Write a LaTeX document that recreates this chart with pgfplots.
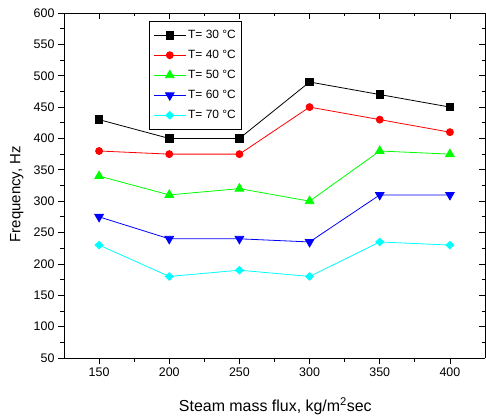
\documentclass[border=0pt]{standalone}
\usepackage{fontspec}
\setmainfont{Liberation Sans}
\usepackage{pgfplots}
\pgfplotsset{compat=1.18}
\definecolor{oGreen}{RGB}{0,255,0}
\definecolor{oCyan}{RGB}{0,255,255}
\definecolor{oBlue}{RGB}{0,0,255}
\definecolor{oRed}{RGB}{255,0,0}
\begin{document}
\begin{tikzpicture}
\useasboundingbox (-64bp,-61bp) rectangle (422bp,358bp);
\pgfplotsset{common/.style={scale only axis, width=421bp, height=345bp,
  xmin=125, xmax=425, ymin=50, ymax=600,
  xtick={150,200,...,400}, ytick={50,100,...,600},
  minor x tick num=1, minor y tick num=1,
  major tick length=6bp, minor tick length=3.5bp,
  tick style={black, line width=0.8bp},
  axis line style={line width=0.9bp},
  /pgf/number format/assume math mode=true,
  tick label style={font=\fontsize{12.5}{14}\selectfont}}}
\begin{axis}[common, axis x line*=top, axis y line*=right, tick align=inside,
  xticklabels={}, yticklabels={}]
\end{axis}
\begin{axis}[common, axis x line*=bottom, axis y line*=left, tick align=outside,
  xlabel={Steam mass flux, kg/m\textsuperscript{2}sec},
  ylabel={Frequency, Hz},
  every axis x label/.style={at={(axis description cs:0.502,-0.156)}, anchor=base, font=\fontsize{16}{18}\selectfont},
  every axis y label/.style={at={(axis description cs:-0.112,0.475)}, rotate=90, anchor=center, font=\fontsize{15}{18}\selectfont},
  legend image code/.code={\draw[mark repeat=2,mark phase=2] plot coordinates {(0bp,0bp)(16bp,0bp)(32bp,0bp)};},
  legend style={at={(axis description cs:0.202,0.977)}, anchor=north west,
    draw=black, line width=0.7bp, font=\fontsize{12}{14}\selectfont,
    inner xsep=4bp, inner ysep=7bp, row sep=6.2bp, cells={anchor=west}},
  every axis plot/.append style={line width=0.8bp},
]
\addplot[black, mark=square*, mark size=3.8bp] coordinates {(150,430) (200,400) (250,400) (300,490) (350,470) (400,450)};
\addlegendentry{T= 30 °C}
\addplot[oRed, mark=*, mark size=3.5bp] coordinates {(150,380) (200,375) (250,375) (300,450) (350,430) (400,410)};
\addlegendentry{T= 40 °C}
\addplot[oGreen, mark=triangle*, mark size=5bp] coordinates {(150,340) (200,310) (250,320) (300,300) (350,380) (400,375)};
\addlegendentry{T= 50 °C}
\addplot[oBlue, mark=triangle*, mark size=5bp, mark options={rotate=180}] coordinates {(150,275) (200,240) (250,240) (300,235) (350,310) (400,310)};
\addlegendentry{T= 60 °C}
\addplot[oCyan, mark=diamond*, mark size=3.8bp, mark options={xscale=1.4}] coordinates {(150,230) (200,180) (250,190) (300,180) (350,235) (400,230)};
\addlegendentry{T= 70 °C}
\end{axis}
\end{tikzpicture}
\end{document}
